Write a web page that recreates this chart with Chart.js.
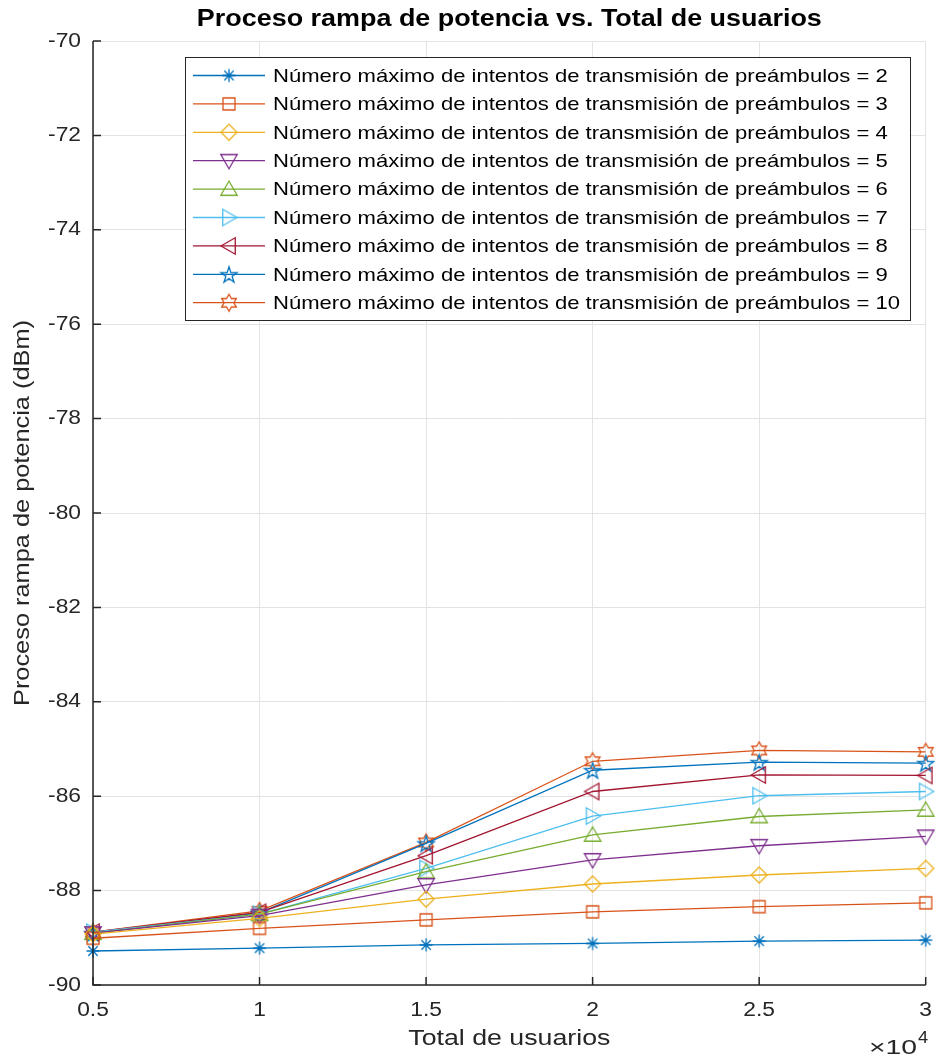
<!DOCTYPE html>
<html>
<head>
<meta charset="utf-8">
<script src="https://cdn.jsdelivr.net/npm/chart.js@4/dist/chart.umd.min.js"></script>
<style>
  html, body { margin: 0; padding: 0; background: #fff; }
  #wrap { width: 935px; height: 1059px; position: relative; }
</style>
</head>
<body>
<div id="wrap"><canvas id="rampaChart" width="935" height="1059"></canvas></div>
<script>
// Datos (potencia en dBm por total de usuarios)
const usuarios = [5000, 10000, 15000, 20000, 25000, 30000];
const intentos2 = [-89.28, -89.22, -89.15, -89.12, -89.07, -89.05];
const intentos3 = [-89.01, -88.80, -88.62, -88.45, -88.34, -88.26];
const intentos4 = [-88.92, -88.59, -88.18, -87.86, -87.67, -87.53];
const intentos5 = [-88.90, -88.53, -87.88, -87.35, -87.05, -86.85];
const intentos6 = [-88.90, -88.50, -87.60, -86.82, -86.43, -86.29];
const intentos7 = [-88.88, -88.50, -87.53, -86.42, -85.99, -85.90];
const intentos8 = [-88.88, -88.46, -87.26, -85.90, -85.55, -85.56];
const intentos9 = [-88.90, -88.47, -87.00, -85.45, -85.28, -85.30];
const intentos10 = [-88.88, -88.43, -86.98, -85.26, -85.03, -85.06];
const yTicks = [-90, -88, -86, -84, -82, -80, -78, -76, -74, -72, -70];
const xTicks = [5000, 10000, 15000, 20000, 25000, 30000];

const series = [
  { n: 2, data: intentos2, color: "#0072BD", marker: "asterisk" },
  { n: 3, data: intentos3, color: "#D95319", marker: "square" },
  { n: 4, data: intentos4, color: "#EDB120", marker: "diamond" },
  { n: 5, data: intentos5, color: "#7E2F8E", marker: "triDown" },
  { n: 6, data: intentos6, color: "#77AC30", marker: "triUp" },
  { n: 7, data: intentos7, color: "#4DBEEE", marker: "triRight" },
  { n: 8, data: intentos8, color: "#A2142F", marker: "triLeft" },
  { n: 9, data: intentos9, color: "#0072BD", marker: "pentagram" },
  { n: 10, data: intentos10, color: "#D95319", marker: "hexagram" },
];

const FONT = "'Liberation Sans', Arial, sans-serif";
const AXIS_COLOR = "#262626";
const STRETCH = 1.14; // MATLAB's Helvetica renders wider than Arial

// marker images (MATLAB style, unfilled)
function makeMarker(kind, color) {
  const c = document.createElement("canvas");
  c.width = 24;
  c.height = 24;
  const g = c.getContext("2d");
  g.strokeStyle = color;
  g.lineWidth = 1.3;
  const cx = 12, cy = 12;
  g.beginPath();
  if (kind === "asterisk") {
    const r = 6.5, d = r * 0.72;
    g.moveTo(cx, cy - r); g.lineTo(cx, cy + r);
    g.moveTo(cx - r, cy); g.lineTo(cx + r, cy);
    g.moveTo(cx - d, cy - d); g.lineTo(cx + d, cy + d);
    g.moveTo(cx - d, cy + d); g.lineTo(cx + d, cy - d);
  } else if (kind === "square") {
    g.rect(cx - 6, cy - 6, 12, 12);
  } else if (kind === "diamond") {
    g.moveTo(cx, cy - 8); g.lineTo(cx + 8, cy); g.lineTo(cx, cy + 8); g.lineTo(cx - 8, cy); g.closePath();
  } else if (kind.startsWith("tri")) {
    const rot = { triUp: 0, triRight: 90, triDown: 180, triLeft: 270 }[kind] * Math.PI / 180;
    const r = 9.5;
    for (let i = 0; i < 3; i++) {
      const a = rot - Math.PI / 2 + i * 2 * Math.PI / 3;
      const px = cx + r * Math.cos(a), py = cy + r * Math.sin(a) + (kind === "triUp" ? 1.5 : kind === "triDown" ? -1.5 : 0);
      const qx = px + (kind === "triRight" ? -1.5 : kind === "triLeft" ? 1.5 : 0);
      if (i === 0) g.moveTo(qx, py); else g.lineTo(qx, py);
    }
    g.closePath();
  } else if (kind === "pentagram" || kind === "hexagram") {
    const pts = kind === "pentagram" ? 5 : 6;
    const ro = 8.5, ri = kind === "pentagram" ? ro * 0.382 : ro * 0.577;
    for (let i = 0; i < pts * 2; i++) {
      const a = -Math.PI / 2 + i * Math.PI / pts;
      const r = i % 2 === 0 ? ro : ri;
      const px = cx + r * Math.cos(a), py = cy + r * Math.sin(a) + (kind === "pentagram" ? 1 : 0);
      if (i === 0) g.moveTo(px, py); else g.lineTo(px, py);
    }
    g.closePath();
  }
  g.stroke();
  return c;
}

const markerImgs = series.map((s) => makeMarker(s.marker, s.color));

const datasets = series.map((s, i) => ({
  label: "Número máximo de intentos de transmisión de preámbulos = " + s.n,
  data: usuarios.map((u, k) => ({ x: u, y: s.data[k] })),
  borderColor: s.color,
  backgroundColor: s.color,
  borderWidth: 1.3,
  tension: 0,
  pointStyle: markerImgs[i],
  pointRadius: 8,
  pointHoverRadius: 8,
  clip: false,
}));

// text with horizontal stretch; if width given, stretch to that width
function wideText(ctx, str, x, y, align, width) {
  const w = ctx.measureText(str).width;
  const sx = width ? width / w : STRETCH;
  ctx.save();
  ctx.translate(x, y);
  ctx.scale(sx, 1);
  ctx.textAlign = align;
  ctx.fillText(str, 0, 0);
  ctx.restore();
}

// MATLAB-like decorations: title, inward ticks, tick labels, axis labels, exponent, legend box
const matlabDecor = {
  id: "matlabDecor",
  afterDraw(chart) {
    const { ctx, chartArea: a, scales } = chart;
    ctx.save();
    // axes lines (left + bottom)
    ctx.strokeStyle = AXIS_COLOR;
    ctx.lineWidth = 1.5;
    ctx.beginPath();
    ctx.moveTo(a.left, a.top);
    ctx.lineTo(a.left, a.bottom);
    ctx.lineTo(a.right, a.bottom);
    ctx.stroke();
    ctx.beginPath();
    yTicks.forEach((v) => {
      const y = scales.y.getPixelForValue(v);
      ctx.moveTo(a.left, y);
      ctx.lineTo(a.left + 8, y);
    });
    xTicks.forEach((v) => {
      const x = scales.x.getPixelForValue(v);
      ctx.moveTo(x, a.bottom);
      ctx.lineTo(x, a.bottom - 8);
    });
    ctx.stroke();

    // tick labels
    ctx.fillStyle = AXIS_COLOR;
    ctx.textBaseline = "middle";
    ctx.font = "20px " + FONT;
    yTicks.forEach((v) => {
      wideText(ctx, String(v), a.left - 12, scales.y.getPixelForValue(v), "right");
    });
    xTicks.forEach((v) => {
      wideText(ctx, String(v / 10000), scales.x.getPixelForValue(v), a.bottom + 25, "center");
    });

    // title
    ctx.fillStyle = "#000";
    ctx.font = "bold 23px " + FONT;
    wideText(ctx, "Proceso rampa de potencia vs. Total de usuarios", (a.left + a.right) / 2, 20, "center", 625);

    // axis titles
    ctx.fillStyle = AXIS_COLOR;
    ctx.font = "22px " + FONT;
    wideText(ctx, "Total de usuarios", (a.left + a.right) / 2, 1039, "center", 202);
    ctx.save();
    ctx.translate(23, (a.top + a.bottom) / 2);
    ctx.rotate(-Math.PI / 2);
    wideText(ctx, "Proceso rampa de potencia (dBm)", 0, 0, "center", 386);
    ctx.restore();

    // x10^4
    ctx.font = "21px " + FONT;
    wideText(ctx, "×10", 869, 1048, "left", 48);
    ctx.font = "16px " + FONT;
    wideText(ctx, "4", 918, 1039, "left");

    // legend
    const lx = 185, ly = 57, lw = 725, lh = 263;
    ctx.fillStyle = "#fff";
    ctx.fillRect(lx, ly, lw, lh);
    ctx.strokeStyle = AXIS_COLOR;
    ctx.lineWidth = 1;
    ctx.strokeRect(lx + 0.5, ly + 0.5, lw, lh);
    ctx.font = "19px " + FONT;
    const refW = ctx.measureText(chart.data.datasets[8].label).width;
    const legSx = 627 / refW;
    chart.data.datasets.forEach((ds, i) => {
      const y = 75.5 + i * 28.4;
      ctx.strokeStyle = ds.borderColor;
      ctx.lineWidth = 1.3;
      ctx.beginPath();
      ctx.moveTo(193, y);
      ctx.lineTo(265, y);
      ctx.stroke();
      const img = markerImgs[i];
      ctx.drawImage(img, 229 - img.width / 2, y - img.height / 2);
      ctx.fillStyle = "#000";
      const w = ctx.measureText(ds.label).width;
      wideText(ctx, ds.label, 273, y + 1, "left", w * legSx);
    });
    ctx.restore();
  },
};

new Chart(document.getElementById("rampaChart").getContext("2d"), {
  type: "line",
  data: { datasets },
  options: {
    responsive: false,
    animation: false,
    devicePixelRatio: 1,
    layout: { padding: { top: 41, right: 8, left: 0, bottom: 0 } },
    plugins: {
      legend: { display: false },
      title: { display: false },
      tooltip: { enabled: false },
    },
    scales: {
      x: {
        type: "linear",
        min: 5000,
        max: 30000,
        afterFit: (s) => { s.height = 74; },
        afterBuildTicks: (s) => { s.ticks = xTicks.map((v) => ({ value: v })); },
        grid: { color: "#e3e3e3", lineWidth: 1, drawTicks: false },
        border: { display: false },
        ticks: { display: false },
      },
      y: {
        min: -90,
        max: -70,
        afterFit: (s) => { s.width = 93; },
        afterBuildTicks: (s) => { s.ticks = yTicks.map((v) => ({ value: v })); },
        grid: { color: "#e3e3e3", lineWidth: 1, drawTicks: false },
        border: { display: false },
        ticks: { display: false },
      },
    },
  },
  plugins: [matlabDecor],
});
</script>
</body>
</html>
